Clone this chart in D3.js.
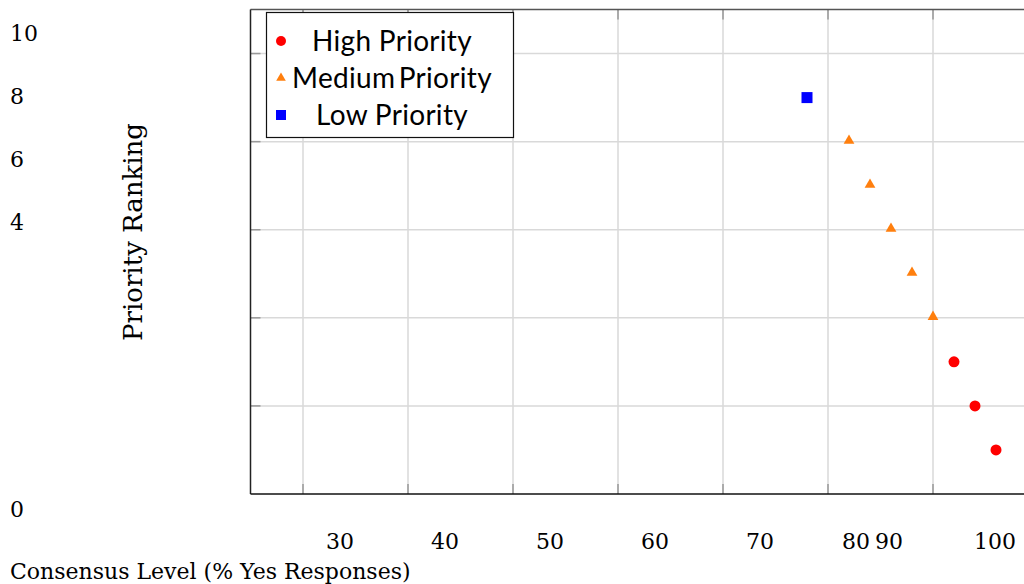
<!DOCTYPE html>
<html>
<head>
<meta charset="utf-8">
<script src="https://cdn.jsdelivr.net/npm/d3@7"></script>
<style>
  html, body { margin: 0; padding: 0; background: #fff; }
  svg { display: block; }
</style>
</head>
<body>
<svg id="chart" width="1024" height="584"></svg>
<script>
// ---- data ----
const highX = [92, 94, 96];
const highY = [3, 2, 1];
const mediumX = [82, 84, 86, 88, 90];
const mediumY = [8, 7, 6, 5, 4];
const lowX = [78];
const lowY = [9];
const seriesNames = ["High Priority", "Medium Priority", "Low Priority"];
const xGridValues = [30, 40, 50, 60, 70, 80, 90, 100];
const yGridValues = [2, 4, 6, 8, 10];
const xTickLabels = [30, 40, 50, 60, 70, 80, 90, 100];
const yTickLabels = [10, 8, 6, 4, 0];
const xTitle = "Consensus Level (% Yes Responses)";
const yTitle = "Priority Ranking";

// ---- layout ----
const svg = d3.select("#chart");
const pLeft = 250.5, pRight = 1038, pTop = 9.5, pBottom = 494;
const x = d3.scaleLinear().domain([25, 100]).range([pLeft, pRight]);
const y = d3.scaleLinear().domain([0, 11]).range([pBottom, pTop]);
// displaced tick-label positions as in reference
const xLab = d3.scaleLinear().domain([30, 70, 80, 90, 100]).range([340, 760, 856, 889, 995]);
const yLab = d3.scaleLinear().domain([0, 4, 10]).range([509, 222, 33]);

const serif = "'DejaVu Serif', 'Liberation Serif', serif";

// gridlines
const g = svg.append("g");
g.selectAll(".vg").data(xGridValues).enter().append("line")
  .attr("x1", d => x(d)).attr("x2", d => x(d))
  .attr("y1", pTop).attr("y2", pBottom)
  .attr("stroke", "#d9d9d9").attr("stroke-width", 1.5);
g.selectAll(".hg").data(yGridValues).enter().append("line")
  .attr("x1", pLeft).attr("x2", pRight)
  .attr("y1", d => y(d)).attr("y2", d => y(d))
  .attr("stroke", "#d9d9d9").attr("stroke-width", 1.5);

// inner tick marks
g.selectAll(".bt").data(xGridValues).enter().append("line")
  .attr("x1", d => x(d)).attr("x2", d => x(d))
  .attr("y1", pBottom).attr("y2", pBottom - 10)
  .attr("stroke", "#999").attr("stroke-width", 1.5);
g.selectAll(".tt").data(xGridValues).enter().append("line")
  .attr("x1", d => x(d)).attr("x2", d => x(d))
  .attr("y1", pTop).attr("y2", pTop + 10)
  .attr("stroke", "#999").attr("stroke-width", 1.5);
g.selectAll(".lt").data(yGridValues).enter().append("line")
  .attr("x1", pLeft).attr("x2", pLeft + 10)
  .attr("y1", d => y(d)).attr("y2", d => y(d))
  .attr("stroke", "#999").attr("stroke-width", 1.5);

// frame
svg.append("line").attr("x1", pLeft).attr("x2", pRight).attr("y1", pTop).attr("y2", pTop)
  .attr("stroke", "#555").attr("stroke-width", 1.5);
svg.append("line").attr("x1", pLeft).attr("x2", pLeft).attr("y1", pTop).attr("y2", pBottom)
  .attr("stroke", "#222").attr("stroke-width", 1.5);
svg.append("line").attr("x1", pLeft).attr("x2", pRight).attr("y1", pBottom).attr("y2", pBottom)
  .attr("stroke", "#111").attr("stroke-width", 1.5);

// points
const pts = svg.append("g");
pts.selectAll(".h").data(highX.map((v, i) => [v, highY[i]])).enter().append("circle")
  .attr("cx", d => x(d[0])).attr("cy", d => y(d[1])).attr("r", 5.5).attr("fill", "#ff0000");
const tri = d3.symbol().type(d3.symbolTriangle).size(50);
pts.selectAll(".m").data(mediumX.map((v, i) => [v, mediumY[i]])).enter().append("path")
  .attr("d", tri).attr("transform", d => `translate(${x(d[0])},${y(d[1]) - 1})`).attr("fill", "#ff7f0e");
pts.selectAll(".l").data(lowX.map((v, i) => [v, lowY[i]])).enter().append("rect")
  .attr("x", d => x(d[0]) - 5.5).attr("y", d => y(d[1]) - 5.5)
  .attr("width", 11).attr("height", 11).attr("fill", "#0000ff");

// tick labels
svg.selectAll(".xl").data(xTickLabels).enter().append("text")
  .attr("x", d => xLab(d)).attr("y", 541).attr("dy", "0.35em")
  .attr("text-anchor", "middle").attr("font-family", serif).attr("font-size", 22)
  .attr("fill", "#000").text(d => d);
svg.selectAll(".yl").data(yTickLabels).enter().append("text")
  .attr("x", 10).attr("y", d => yLab(d)).attr("dy", "0.35em")
  .attr("text-anchor", "start").attr("font-family", serif).attr("font-size", 22)
  .attr("fill", "#000").text(d => d);

// axis titles
svg.append("text").attr("x", 10).attr("y", 579)
  .attr("font-family", serif).attr("font-size", 22).attr("fill", "#000").text(xTitle);
svg.append("text").attr("transform", "translate(142,232) rotate(-90)")
  .attr("text-anchor", "middle").attr("font-family", serif).attr("font-size", 26)
  .attr("fill", "#000").text(yTitle);

// legend
const lg = svg.append("g");
lg.append("rect").attr("x", 266.5).attr("y", 12.5).attr("width", 247).attr("height", 125)
  .attr("fill", "#fff").attr("stroke", "#111").attr("stroke-width", 1.2);
const legY = d3.scalePoint().domain(seriesNames).range([41, 115]);
lg.append("circle").attr("cx", 281).attr("cy", legY(seriesNames[0])).attr("r", 5).attr("fill", "#ff0000");
lg.append("path").attr("d", d3.symbol().type(d3.symbolTriangle).size(40))
  .attr("transform", `translate(281,${legY(seriesNames[1])})`).attr("fill", "#ff7f0e");
lg.append("rect").attr("x", 276).attr("y", legY(seriesNames[2]) - 5).attr("width", 10).attr("height", 10).attr("fill", "#0000ff");
lg.selectAll(".ltx").data(seriesNames).enter().append("text")
  .attr("x", 392).attr("y", d => legY(d)).attr("dy", "0.35em")
  .attr("text-anchor", "middle").attr("font-family", "Lato, sans-serif").attr("font-size", 28)
  .attr("letter-spacing", "0.3px")
  .attr("word-spacing", d => d === "Medium Priority" ? "-4px" : "0px")
  .attr("fill", "#000").text(d => d);
</script>
</body>
</html>
